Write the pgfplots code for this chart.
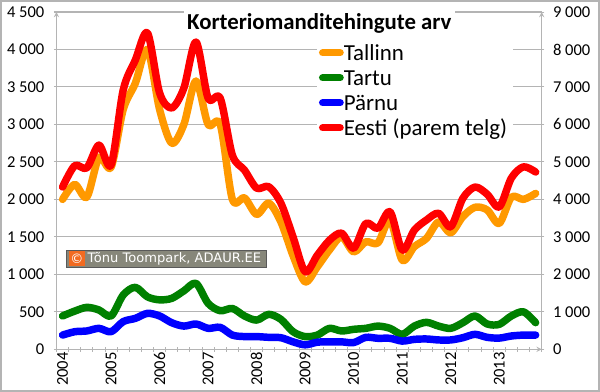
\documentclass[border=0pt]{standalone}
\usepackage{fontspec}
\setmainfont{Carlito}
\newfontfamily\wm{DejaVu Sans}
\usepackage{pgfplots}
\usepackage{pgfplotstable}
\pgfplotsset{compat=1.18}
\definecolor{grd}{HTML}{B4B4B4}
\definecolor{cor}{HTML}{FF9900}
\definecolor{cgr}{HTML}{008000}
\definecolor{cbl}{HTML}{0000FF}
\definecolor{crd}{HTML}{FF0000}
\definecolor{tag}{HTML}{87877A}
\definecolor{tagor}{HTML}{F26B21}
\pgfplotstableread{
i tallinn tartu parnu eesti
0 2000 445 190 4330
1 2200 510 235 4900
2 2030 560 245 4840
3 2560 525 280 5450
4 2430 445 235 4920
5 3200 725 370 6920
6 3550 827 413 7720
7 4000 700 480 8440
8 3200 660 445 6840
9 2750 680 355 6440
10 3000 780 310 6970
11 3580 880 338 8200
12 3000 613 280 6700
13 3000 515 293 6700
14 2000 545 190 5180
15 2020 445 170 4780
16 1800 390 170 4300
17 1950 467 160 4340
18 1700 400 155 3900
19 1250 235 100 3000
20 900 170 60 2070
21 1100 190 95 2510
22 1325 280 100 2910
23 1500 245 100 3100
24 1300 267 90 2700
25 1435 280 160 3360
26 1420 310 147 3230
27 1725 280 147 3670
28 1190 200 110 2650
29 1370 310 133 3180
30 1480 360 138 3450
31 1700 310 125 3630
32 1555 280 125 3270
33 1770 355 155 4030
34 1895 445 200 4330
35 1860 338 160 4140
36 1680 333 150 3800
37 2030 445 178 4570
38 2000 500 190 4870
39 2080 355 190 4730
}\data
\pgfplotsset{
  base/.style={
    at={(42.375pt,32pt)},anchor=south west,
    scale only axis,width=363.9pt,height=253pt,
    xmin=-0.5,xmax=39.5,
    axis line style={-,grd,line width=0.75pt},
    tick style={grd,line width=0.75pt},
    major tick length=4pt,
    tick align=outside,
    /pgf/number format/assume math mode=true,
    /pgf/number format/1000 sep={\ },
    ticklabel style={font=\fontsize{12.4pt}{14pt}\selectfont,text=black},
  },
  curve/.style={line width=5.6pt,smooth,no markers,line join=round,line cap=round},
}
\begin{document}
\begin{tikzpicture}[x=1pt,y=1pt]
\useasboundingbox (0,0) rectangle (450,294);
\fill[white] (0,0) rectangle (450,294);
\begin{axis}[base,
  axis x line=bottom,axis y line=left,
  ymin=0,ymax=4500,ytick={0,500,...,4500},
  ymajorgrids,grid style={grd,line width=0.75pt},
  xtick={-0.5,0.5,...,39.5},xticklabels={},
  extra x ticks={0,4,...,36},
  extra x tick labels={2004,2005,2006,2007,2008,2009,2010,2011,2012,2013},
  extra x tick style={major tick length=0pt,
    tick label style={rotate=90,anchor=east,inner sep=2pt}},
  yticklabel style={xshift=-3.6pt},
]
\addplot[curve,cor] table[x=i,y=tallinn]{\data};
\addplot[curve,cgr] table[x=i,y=tartu]{\data};
\addplot[curve,cbl] table[x=i,y=parnu]{\data};
\end{axis}
% white panels behind the title and the legend
\fill[white] (138,268) rectangle (341,285.5);
\fill[white] (238,180) rectangle (385,268);
\begin{axis}[base,
  axis y line=right,axis x line=none,
  ymin=0,ymax=9000,ytick={0,1000,...,9000},
  yticklabel style={xshift=3pt},
  legend style={at={(0.541,0.9045),},anchor=north west,draw=none,fill=none,
    inner sep=0pt,outer sep=0pt,
    nodes={font=\fontsize{17.2pt}{19pt}\selectfont,text height=12pt,text depth=4pt,inner sep=0pt},
    row sep=2.75pt},
  legend cell align=left,
  legend image code/.code={\draw[#1,line width=5.6pt,line cap=round] (2.7pt,1.6pt) -- (15.7pt,1.6pt);},
]
\addplot[curve,crd,forget plot] table[x=i,y=eesti]{\data};
\addlegendimage{cor}\addlegendentry{Tallinn}
\addlegendimage{cgr}\addlegendentry{Tartu}
\addlegendimage{cbl}\addlegendentry{Pärnu}
\addlegendimage{crd}\addlegendentry{Eesti (parem telg)}
\end{axis}
\node[anchor=center,font=\bfseries\fontsize{17.1pt}{19pt}\selectfont,inner sep=0pt] at (239.5,276.5) {Korteriomanditehingute arv};
% copyright tag
\fill[white] (49.5,92.5) rectangle (200,107);
\draw[fill=tag,draw=gray!70!black,line width=0.6pt] (50,93.5) rectangle (199.5,106.5);
\fill[tagor] (51.5,94.5) rectangle (64,105.5);
\node[font=\wm\fontsize{9.8pt}{11pt}\selectfont,text=white,inner sep=0pt] at (57.7,100) {©};
\node[anchor=west,font=\wm\fontsize{9.8pt}{11pt}\selectfont,text=white,inner sep=0pt] at (65.5,100) {Tõnu Toompark, ADAUR.EE};
% image frame
\draw[grd,line width=1.2pt] (0.6,0.6) rectangle (449.4,293.4);
\end{tikzpicture}
\end{document}
